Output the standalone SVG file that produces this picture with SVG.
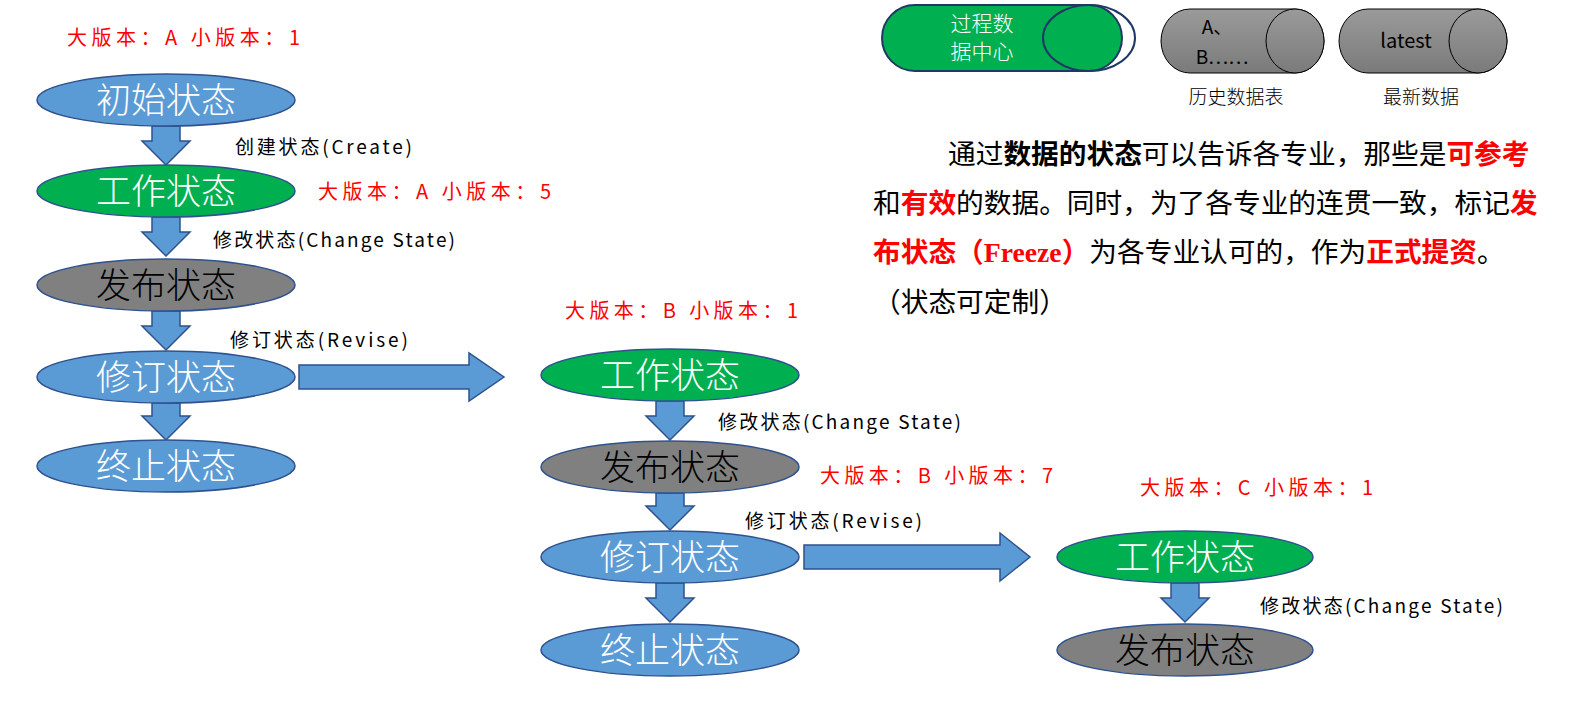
<svg xmlns="http://www.w3.org/2000/svg" width="1586" height="702" viewBox="0 0 1586 702">
<style>
.e{stroke:#2F528F;stroke-width:1.5}
.b{fill:#5B9BD5}.g{fill:#00B050}.k{fill:#808080}
.t{font-family:"Noto Sans CJK SC",sans-serif;font-size:35px;font-weight:300;text-anchor:middle;fill:#fff}
.tk{fill:#000}
.l{font-family:"Noto Sans CJK SC",sans-serif;font-size:19px;fill:#000}
.r{font-family:"Noto Sans CJK SC",sans-serif;font-size:20px;fill:#f00}
.ar{fill:#5B9BD5;stroke:#2F528F;stroke-width:1.5}
.p{font-family:"Noto Sans CJK SC",sans-serif;font-size:27.7px;fill:#000}
.red{fill:#f00;font-weight:bold}
</style>
<defs>
<linearGradient id="gr" x1="0" y1="0" x2="0" y2="1"><stop offset="0" stop-color="#9a9a9a"/><stop offset="1" stop-color="#7a7a7a"/></linearGradient>
</defs>
<g id="connectors">
<path class="ar" d="M152,126h28v15h10l-24,24l-24,-24h10z"/>
<path class="ar" d="M152,217h28v15h10l-24,24l-24,-24h10z"/>
<path class="ar" d="M152,311h28v15h10l-24,24l-24,-24h10z"/>
<path class="ar" d="M152,403h28v13h10l-24,24l-24,-24h10z"/>
<path class="ar" d="M656,401h28v15h10l-24,24l-24,-24h10z"/>
<path class="ar" d="M656,493h28v13h10l-24,24l-24,-24h10z"/>
<path class="ar" d="M656,583h28v15h10l-24,24l-24,-24h10z"/>
<path class="ar" d="M1171,583h28v15h10l-24,24l-24,-24h10z"/>
<path class="ar" d="M299,365h170v-12l35,24l-35,24v-12h-170z"/>
<path class="ar" d="M804,545h196v-12l30,24l-30,24v-12h-196z"/>
</g>
<g id="labels">
<text class="r" x="67" y="45" textLength="233" lengthAdjust="spacing">大版本：A  小版本：1</text>
<text class="r" x="318" y="199" textLength="233" lengthAdjust="spacing">大版本：A  小版本：5</text>
<text class="r" x="565" y="318" textLength="233" lengthAdjust="spacing">大版本：B  小版本：1</text>
<text class="r" x="820" y="483" textLength="233" lengthAdjust="spacing">大版本：B  小版本：7</text>
<text class="r" x="1140" y="495" textLength="233" lengthAdjust="spacing">大版本：C  小版本：1</text>
<text class="l" x="235" y="154" textLength="177">创建状态(Create)</text>
<text class="l" x="213" y="247" textLength="242">修改状态(Change State)</text>
<text class="l" x="230" y="347" textLength="178">修订状态(Revise)</text>
<text class="l" x="718" y="429" textLength="243">修改状态(Change State)</text>
<text class="l" x="745" y="528" textLength="177">修订状态(Revise)</text>
<text class="l" x="1260" y="613" textLength="243">修改状态(Change State)</text>
</g>
<g id="n1"><ellipse class="e b" cx="166" cy="100" rx="129" ry="26"/><text class="t" x="166" y="113">初始状态</text></g>
<g id="n2"><ellipse class="e g" cx="166" cy="191" rx="129" ry="26"/><text class="t" x="166" y="204">工作状态</text></g>
<g id="n3"><ellipse class="e k" cx="166" cy="285" rx="129" ry="26"/><text class="t tk" x="166" y="298">发布状态</text></g>
<g id="n4"><ellipse class="e b" cx="166" cy="377" rx="129" ry="26"/><text class="t" x="166" y="390">修订状态</text></g>
<g id="n5"><ellipse class="e b" cx="166" cy="466" rx="129" ry="26"/><text class="t" x="166" y="479">终止状态</text></g>
<g id="m1"><ellipse class="e g" cx="670" cy="375" rx="129" ry="26"/><text class="t" x="670" y="388">工作状态</text></g>
<g id="m2"><ellipse class="e k" cx="670" cy="467" rx="129" ry="26"/><text class="t tk" x="670" y="480">发布状态</text></g>
<g id="m3"><ellipse class="e b" cx="670" cy="557" rx="129" ry="26"/><text class="t" x="670" y="570">修订状态</text></g>
<g id="m4"><ellipse class="e b" cx="670" cy="650" rx="129" ry="26"/><text class="t" x="670" y="663">终止状态</text></g>
<g id="c1"><ellipse class="e g" cx="1185" cy="557" rx="128" ry="26"/><text class="t" x="1185" y="570">工作状态</text></g>
<g id="c2"><ellipse class="e k" cx="1185" cy="650" rx="128" ry="26"/><text class="t tk" x="1185" y="663">发布状态</text></g>
<g id="legend1"><path d="M915,5h174a33,33 0 0 1 0,66h-174a33,33 0 0 1 0,-66z" fill="#00B050" stroke="#1F3864" stroke-width="2"/><ellipse cx="1089" cy="38" rx="46" ry="33" fill="none" stroke="#1F3864" stroke-width="2"/><text class="t" style="font-size:21px" x="982" y="31">过程数</text><text class="t" style="font-size:21px" x="982" y="59">据中心</text></g>
<g id="legend2"><path d="M1190,9h105a29,32 0 0 1 0,64h-105a29,32 0 0 1 0,-64z" fill="url(#gr)" stroke="#000"/><ellipse cx="1295" cy="41" rx="29" ry="32" fill="url(#gr)" stroke="#000"/><text class="l" x="1217" y="34" text-anchor="middle">A、</text><text class="l" x="1222" y="64" text-anchor="middle">B……</text><text class="l" style="font-size:19px;font-weight:300" x="1236" y="104" text-anchor="middle">历史数据表</text></g>
<g id="legend3"><path d="M1368,9h110a29,32 0 0 1 0,64h-110a29,32 0 0 1 0,-64z" fill="url(#gr)" stroke="#000"/><ellipse cx="1478" cy="41" rx="29" ry="32" fill="url(#gr)" stroke="#000"/><text class="l" style="font-size:20px" x="1406" y="48" text-anchor="middle">latest</text><text class="l" style="font-size:19px;font-weight:300" x="1421" y="104" text-anchor="middle">最新数据</text></g>
<g id="para">
<text class="p" x="948" y="164">通过<tspan font-weight="bold">数据的状态</tspan>可以告诉各专业，那些是<tspan class="red">可参考</tspan></text>
<text class="p" x="873" y="213">和<tspan class="red">有效</tspan>的数据。同时，为了各专业的连贯一致，标记<tspan class="red">发</tspan></text>
<text class="p" x="873" y="262"><tspan class="red">布状态（</tspan><tspan class="red" font-family="Liberation Serif">Freeze</tspan><tspan class="red">）</tspan>为各专业认可的，作为<tspan class="red">正式提资</tspan>。</text>
<text class="p" x="873" y="312">（状态可定制）</text>
</g>
</svg>
